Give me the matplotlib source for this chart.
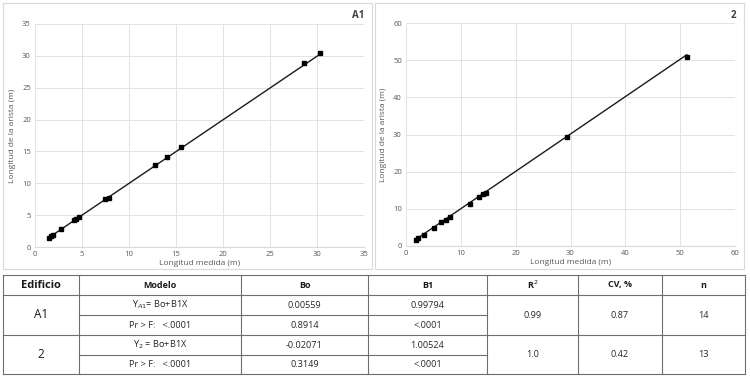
import matplotlib.pyplot as plt
from matplotlib.patches import Rectangle

plt.rcParams['font.family'] = ['Open Sans', 'DejaVu Sans']

# building A1
a1_x = [1.5, 1.75, 1.95, 2.75, 4.2, 4.35, 4.65, 7.4, 7.9, 12.75, 14.0, 15.5, 28.6, 30.3]
a1_y = [1.45, 1.8, 1.9, 2.8, 4.25, 4.4, 4.65, 7.5, 7.65, 12.85, 14.05, 15.65, 28.85, 30.45]
# building 2
b2_x = [1.8, 2.25, 3.3, 5.15, 6.4, 7.25, 8.0, 11.6, 13.4, 14.0, 14.5, 29.4, 51.2]
b2_y = [1.6, 2.15, 2.95, 4.95, 6.4, 7.0, 7.8, 11.3, 13.3, 14.0, 14.2, 29.4, 50.9]

# regression table
headers = ['Edificio', 'Modelo', 'Bo', 'B1', 'R$^{2}$', 'CV, %', 'n']
edificios = ['A1', '2']
modelos = [['Y$_{A1}$= Bo+B1X', 'Pr > F:   <.0001'], ['Y$_{2}$ = Bo+B1X', 'Pr > F:   <.0001']]
bo_vals = [['0.00559', '0.8914'], ['-0.02071', '0.3149']]
b1_vals = [['0.99794', '<.0001'], ['1.00524', '<.0001']]
r2_vals = ['0.99', '1.0']
cv_vals = ['0.87', '0.42']
n_vals = ['14', '13']
intercepts = [0.00559, -0.02071]
slopes = [0.99794, 1.00524]

W, H = 750, 378
fig = plt.figure(figsize=(7.5, 3.78), dpi=100)

def px(x0, y0, x1, y1):
    return [x0 / W, 1 - y1 / H, (x1 - x0) / W, (y1 - y0) / H]

grey = '#595959'

def chart(rect, xs, ys, b0, b1, lim, step):
    ax = fig.add_axes(rect)
    ax.plot(xs, ys, 's', color='black', ms=3.3, zorder=3)
    lx = [min(xs), max(xs)]
    ax.plot(lx, [b0 + b1 * v for v in lx], color='#1a1a1a', lw=1.0, zorder=2)
    ax.set_xlim(0, lim)
    ax.set_ylim(0, lim)
    ax.set_xticks(range(0, lim + 1, step))
    ax.set_yticks(range(0, lim + 1, step))
    ax.grid(True, color='#e3e3e3', lw=0.7)
    ax.set_axisbelow(True)
    for s in ax.spines.values():
        s.set_visible(False)
    ax.spines['bottom'].set_visible(True)
    ax.spines['bottom'].set_color('#d9d9d9')
    ax.tick_params(length=0, labelsize=5.5, labelcolor=grey, pad=3)
    ax.set_xlabel('Longitud medida (m)', fontsize=6, color=grey, labelpad=1)
    ax.set_ylabel('Longitud de la arista (m)', fontsize=6, color=grey, labelpad=4)
    return ax

chart(px(35, 24, 364, 247), a1_x, a1_y, intercepts[0], slopes[0], 35, 5)
chart(px(406, 23, 735, 246), b2_x, b2_y, intercepts[1], slopes[1], 60, 10)

# overlay in pixel coordinates for panel borders, tags and table
ov = fig.add_axes([0, 0, 1, 1], zorder=-1)
ov.set_xlim(0, W)
ov.set_ylim(H, 0)
ov.axis('off')
ov.add_patch(Rectangle((3, 3), 369, 266, fill=False, ec='#d9d9d9', lw=0.8))
ov.add_patch(Rectangle((375, 3), 369, 266, fill=False, ec='#d9d9d9', lw=0.8))
ov.text(358, 16, 'A1', fontsize=7, fontweight='bold', color='#404040', ha='center', va='center')
ov.text(733, 16, '2', fontsize=7, fontweight='bold', color='#404040', ha='center', va='center')

cols = [3, 79, 241, 368, 487, 578, 662, 745]
rows = [275, 295, 315, 335, 355, 374]
lc = '#6e6e6e'
for i, yy in enumerate(rows):
    if i in (2, 4):
        ov.plot([cols[1], cols[4]], [yy, yy], color=lc, lw=0.8)
    else:
        ov.plot([cols[0], cols[-1]], [yy, yy], color=lc, lw=0.8)
for xx in cols:
    ov.plot([xx, xx], [rows[0], rows[-1]], color=lc, lw=0.8)

mid = [(cols[i] + cols[i + 1]) / 2 for i in range(len(cols) - 1)]
for j, h in enumerate(headers):
    ov.text(mid[j], (rows[0] + rows[1]) / 2, h, fontsize=8 if j == 0 else 6.5,
            fontweight='bold', ha='center', va='center', color='#1a1a1a')

fs = 6.6
for k in range(2):
    top = rows[1 + 2 * k]
    bot = rows[3 + 2 * k]
    ym = (top + bot) / 2
    ov.text(mid[0], ym, edificios[k], fontsize=8.5, ha='center', va='center', color='#1a1a1a')
    for r in range(2):
        yc = (rows[1 + 2 * k + r] + rows[2 + 2 * k + r]) / 2
        ov.text(mid[1], yc, modelos[k][r], fontsize=fs, ha='center', va='center', color='#262626')
        ov.text(mid[2], yc, bo_vals[k][r], fontsize=fs, ha='center', va='center', color='#262626')
        ov.text(mid[3], yc, b1_vals[k][r], fontsize=fs, ha='center', va='center', color='#262626')
    ov.text(mid[4], ym, r2_vals[k], fontsize=fs, ha='center', va='center', color='#262626')
    ov.text(mid[5], ym, cv_vals[k], fontsize=fs, ha='center', va='center', color='#262626')
    ov.text(mid[6], ym, n_vals[k], fontsize=fs, ha='center', va='center', color='#262626')

fig.savefig('out.png', dpi=100)
